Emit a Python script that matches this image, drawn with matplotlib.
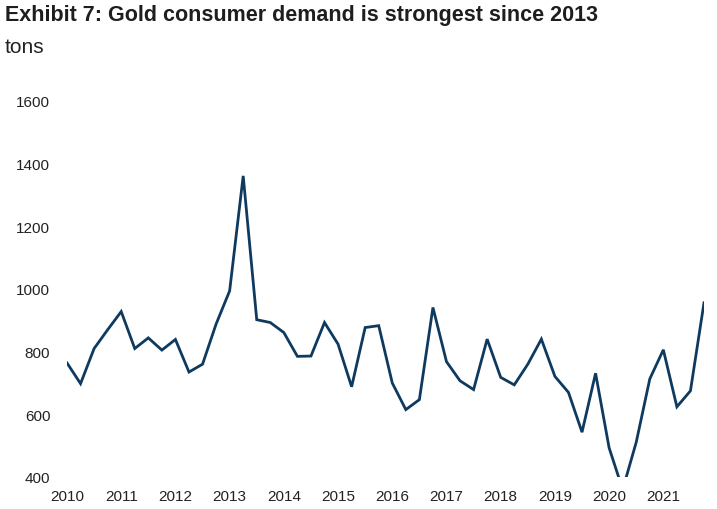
import numpy as np
import matplotlib
matplotlib.use("Agg")
import matplotlib.pyplot as plt

# quarterly gold consumer demand, tons, 2010 Q1 .. 2021 Q4
quarters = [2010 + i * 0.25 for i in range(48)]
demand = [764, 698, 810, 870, 928, 810, 844, 805,
          839, 735, 760, 888, 994, 1361, 902, 893,
          861, 785, 786, 893, 824, 688, 877, 883,
          700, 615, 647, 941, 768, 707, 679, 840,
          718, 694, 760, 840, 721, 670, 543, 731,
          493, 360, 511, 713, 806, 624, 675, 956]
year_ticks = list(range(2010, 2022))
y_ticks = [400, 600, 800, 1000, 1200, 1400, 1600]

title = "Exhibit 7: Gold consumer demand is strongest since 2013"
unit = "tons"

plt.rcParams['font.family'] = ['Liberation Sans', 'DejaVu Sans']

fig = plt.figure(figsize=(7.17, 5.10), dpi=100)
ax = fig.add_axes([67 / 717, 32 / 510, 637 / 717, 376 / 510])

ax.plot(quarters, demand, color='#0f3a5f', linewidth=2.0, solid_joinstyle='miter')

ax.set_xlim(2010, 2021.75)
ax.set_ylim(400, 1600)
ax.set_xticks(year_ticks)
ax.set_xticklabels([str(y) for y in year_ticks])
ax.set_yticks(y_ticks)
for s in ax.spines.values():
    s.set_visible(False)
ax.tick_params(axis='both', length=0, labelsize=11, colors='#222222')
ax.tick_params(axis='y', pad=12)
ax.tick_params(axis='x', pad=9)

fig.text(0.007, 0.99, title, fontsize=15.5, fontweight='bold',
         family=['Liberation Sans Narrow', 'Liberation Sans'], color='#1e1e1e',
         va='top', ha='left')
fig.text(0.007, 0.925, unit, fontsize=15, family=['Liberation Sans Narrow', 'Liberation Sans'],
         color='#222222', va='top', ha='left')

fig.savefig("out.png", dpi=100)
